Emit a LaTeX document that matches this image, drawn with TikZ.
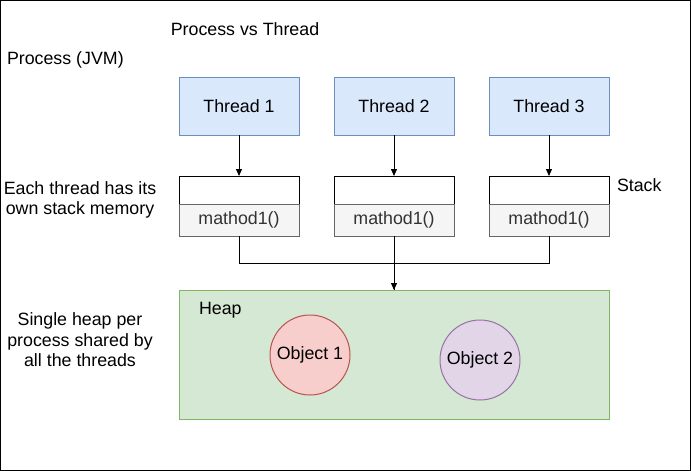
\documentclass[tikz,border=0pt]{standalone}
\usepackage{fontspec}
\setmainfont{Liberation Sans}
\usetikzlibrary{arrows.meta}
\definecolor{thfill}{HTML}{DAE8FC}
\definecolor{thdraw}{HTML}{6C8EBF}
\definecolor{stfill}{HTML}{F5F5F5}
\definecolor{stdraw}{HTML}{666666}
\definecolor{hpfill}{HTML}{D5E8D4}
\definecolor{hpdraw}{HTML}{82B366}
\definecolor{o1fill}{HTML}{F8CECC}
\definecolor{o1draw}{HTML}{B85450}
\definecolor{o2fill}{HTML}{E1D5E7}
\definecolor{o2draw}{HTML}{9673A6}
\tikzset{
  every node/.style={font=\fontsize{17.8}{20.5}\selectfont, inner sep=0pt, outer sep=0pt},
  thread/.style={draw=thdraw, fill=thfill, minimum width=120pt, minimum height=58pt, line width=1pt},
  stacktop/.style={draw=black, fill=white, minimum width=120pt, minimum height=28pt, line width=1pt},
  stackbot/.style={draw=stdraw, fill=stfill, minimum width=120pt, minimum height=32pt, line width=1pt, text=black!80},
  obj/.style={circle, minimum size=80pt, line width=1pt},
  conn/.style={line width=1pt, -{Triangle[length=7pt,width=6pt]}},
  link/.style={line width=1pt},
  lbl/.style={align=center},
}
\begin{document}
\begin{tikzpicture}[x=1pt,y=-1pt]
\draw[line width=1pt] (0.5,0.5) rectangle (690.5,470.5);
\useasboundingbox (0,0) rectangle (691,471);
\node (title) at (245,29) {Process vs Thread};
\node[anchor=west] (proc) at (7,60) {Process (JVM)};
\node[thread] (t1) at (239,106) {Thread 1};
\node[thread] (t2) at (394,106) {Thread 2};
\node[thread] (t3) at (549,106) {Thread 3};
\node[stacktop] (s1) at (239,190) {};
\node[stacktop] (s2) at (394,190) {};
\node[stacktop] (s3) at (549,190) {};
\node[stackbot, anchor=north] (m1) at (s1.south) {mathod1()};
\node[stackbot, anchor=north] (m2) at (s2.south) {mathod1()};
\node[stackbot, anchor=north] (m3) at (s3.south) {mathod1()};
\node[anchor=west] (stk) at (617,185) {Stack};
\node[lbl] (each) at (80,200) {Each thread has its\\own stack memory};
\node[draw=hpdraw, fill=hpfill, line width=1pt, minimum width=430pt, minimum height=129pt] (heap) at (394,354.5) {};
\node[anchor=west] (hlbl) at (199,310) {Heap};
\node[obj, draw=o1draw, fill=o1fill] (o1) at (310,355) {Object 1};
\node[obj, draw=o2draw, fill=o2fill] (o2) at (480,360) {Object 2};
\node[lbl] (single) at (80,340) {Single heap per\\process shared by\\all the threads};
\draw[conn] (t1) -- (s1);
\draw[conn] (t2) -- (s2);
\draw[conn] (t3) -- (s3);
\draw[link] (m1.south) -- ++(0,27) -| (heap.north);
\draw[link] (m3.south) -- ++(0,27) -| (heap.north);
\draw[conn] (m2.south) -- (heap.north);
\end{tikzpicture}
\end{document}
